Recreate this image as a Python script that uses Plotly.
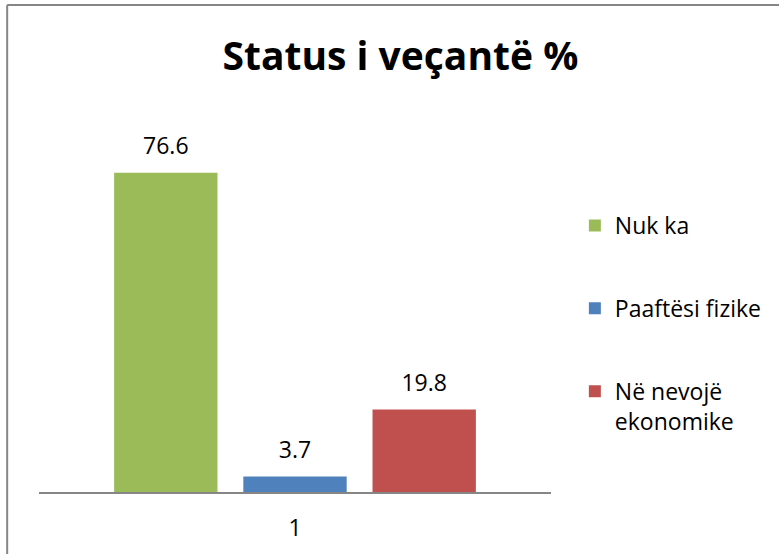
import plotly.graph_objects as go

categories = ["1"]
series_names = ["Nuk ka", "Paaftësi fizike", "Në nevojë<br>ekonomike"]
series_values = [[76.6], [3.7], [19.8]]
series_colors = ["#9BBB59", "#4F81BD", "#C0504D"]
title_text = "Status i veçantë %"

FONT = "Open Sans"

fig = go.Figure()
for i, (name, vals, col) in enumerate(zip(series_names, series_values, series_colors)):
    fig.add_trace(go.Bar(
        x=categories, y=vals, name=name,
        marker=dict(color=col, line=dict(width=0)),
        text=[f"{v}" for v in vals],
        texttemplate='<span style="font-size:23px">%{text}</span><br> ',
        textposition="outside",
        textfont=dict(family=FONT, size=10, color="#000000"),
        cliponaxis=False,
        legendgroup=f"g{i}",
    ))

W, H = 779, 554
L, R, T, B = 39, 225, 117, 62
pw = W - L - R
ph = H - T - B

def px_x(x):
    return (x - L) / pw

def px_y(y):
    return (H - B - y) / ph

fig.update_layout(
    width=W, height=H,
    margin=dict(l=L, r=R, t=T, b=B),
    paper_bgcolor="white", plot_bgcolor="white",
    barmode="group", bargap=0.243, bargroupgap=0.2,
    title=dict(text=f"<b>{title_text}</b>", x=0.514, xanchor="center",
               y=1 - 56 / H, yanchor="middle", yref="container",
               font=dict(family=FONT, size=39, color="#000000")),
    showlegend=True,
    legend=dict(x=px_x(578), xanchor="left", y=px_y(204), yanchor="top",
                font=dict(family=FONT, size=23, color="#000000"),
                tracegroupgap=50, valign="top", bgcolor="rgba(0,0,0,0)"),
    xaxis=dict(showline=True, linecolor="#868686", linewidth=2,
               showgrid=False, ticks="", ticklabelstandoff=14,
               tickfont=dict(family=FONT, size=23, color="#000000")),
    yaxis=dict(range=[0, 90], visible=False, showgrid=False),
    shapes=[
        dict(type="line", xref="paper", yref="paper",
             x0=px_x(7), x1=px_x(800), y0=px_y(5), y1=px_y(5),
             line=dict(color="#868686", width=2)),
        dict(type="line", xref="paper", yref="paper",
             x0=px_x(7), x1=px_x(7), y0=px_y(5), y1=px_y(600),
             line=dict(color="#868686", width=2)),
    ],
)

fig.write_html("out.html", config={"displayModeBar": False},
               post_script="document.body.style.margin='0';document.body.style.overflow='hidden';")
